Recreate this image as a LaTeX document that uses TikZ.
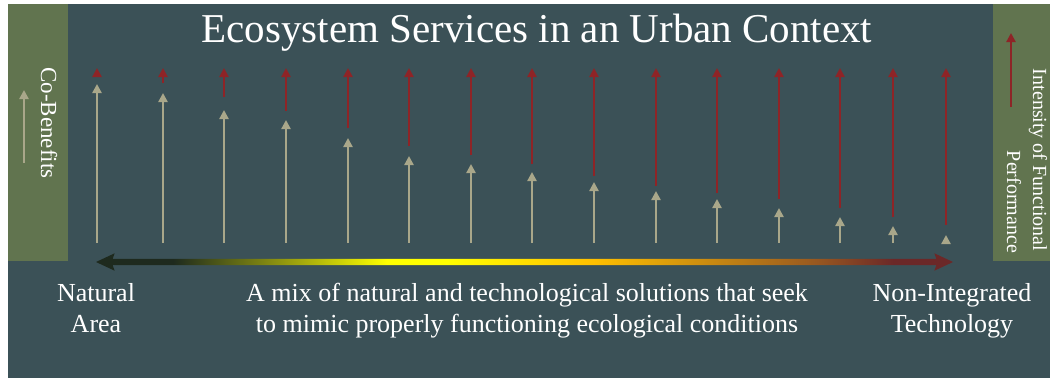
\documentclass[tikz,border=0pt]{standalone}
\usepackage{fontspec}
\setmainfont{Liberation Serif}
\usetikzlibrary{arrows.meta, shapes.arrows}

\definecolor{bgteal}{HTML}{3B5157}
\definecolor{barGreen}{HTML}{61744F}
\definecolor{cbBeige}{HTML}{A9A78A}
\definecolor{fpRed}{HTML}{8E2427}
\definecolor{ntDark}{HTML}{1E2A1E}
\definecolor{ntYellow}{HTML}{FFFF00}
\definecolor{ntOrange}{HTML}{FFC000}
\definecolor{ntBrown}{HTML}{985820}
\definecolor{ntRed}{HTML}{6B2828}

\pgfdeclarehorizontalshading{naturetech}{100bp}{color(0bp)=(ntDark); color(29.5bp)=(ntDark);
  color(42bp)=(ntYellow); color(45.5bp)=(ntYellow); color(54bp)=(ntOrange); color(67bp)=(ntBrown);
  color(71.5bp)=(ntRed); color(100bp)=(ntRed)}

\begin{document}
\begin{tikzpicture}[
	x=1pt, y=-1pt,
	cobenefit/.style = {draw=cbBeige, line width=2.4pt, -{Triangle[length=9pt, width=9pt]}},
	intensity/.style = {draw=fpRed, line width=2.8pt, -{Triangle[length=9pt, width=9pt]}},
	txt/.style = {text=white, inner sep=0pt, align=center},
	title/.style = {txt, font=\fontsize{41}{49}\selectfont, anchor=base},
	side/.style = {txt, rotate=-90},
	foot/.style = {txt, font=\fontsize{26}{31}\selectfont, anchor=base}
     ]
		\useasboundingbox (0,0) rectangle (1050,378);
		\fill[bgteal] (8,4) rectangle (1050,378);
		\fill[barGreen] (8,4) rectangle (68,261);
		\fill[barGreen] (993,4) rectangle (1050,261);
%
		\node[title] (title) at (537,42) {Ecosystem Services in an Urban Context};
%
		\coordinate (cbfoot) at (24,163);
		\coordinate (cbhead) at (24,90);
		\draw[cobenefit] (cbfoot) -- (cbhead);
		\node[side, font=\fontsize{23}{27}\selectfont] (cblabel) at (49,123) {Co-Benefits};
%
		\coordinate (fpfoot) at (1011,107);
		\coordinate (fphead) at (1011,33);
		\draw[intensity] (fpfoot) -- (fphead);
		\node[side, font=\fontsize{20}{24}\selectfont] (fplabel) at (1038,160) {Intensity of Functional};
		\node[side, font=\fontsize{20}{24}\selectfont] (fplabel2) at (1014,202) {Performance};
%
		\foreach \x/\b/\r [count=\i] in {97/84/76, 163/93/83, 224/110/97, 286/120/111,
			348/138/128, 409/156/146, 471/164/155, 532/172/164, 594/182/176,
			656/191/186, 717/199/193, 779/208/199, 840/217/208, 893/226/217, 946/235/225}
		{
			\coordinate (base\i) at (\x,243);
			\coordinate (cb\i) at (\x,\b);
			\coordinate (fp\i) at (\x,\r);
			\coordinate (top\i) at (\x,68);
			\draw[cobenefit] (base\i) -- (cb\i);
			\draw[intensity] (fp\i) -- (top\i);
		}
%
		\node[double arrow, shading=naturetech, inner xsep=0pt, inner ysep=3pt,
			minimum height=857pt, double arrow head extend=5.5pt,
			double arrow tip angle=50, double arrow head indent=2pt] (range) at (524.5,262) {};
%
		\node[foot] (natural) at (96,332) {Natural\\Area};
		\node[foot] (mix) at (527,332) {A mix of natural and technological solutions that seek\\to mimic properly functioning ecological conditions};
		\node[foot] (tech) at (952,332) {Non-Integrated\\Technology};
\end{tikzpicture}
\end{document}
